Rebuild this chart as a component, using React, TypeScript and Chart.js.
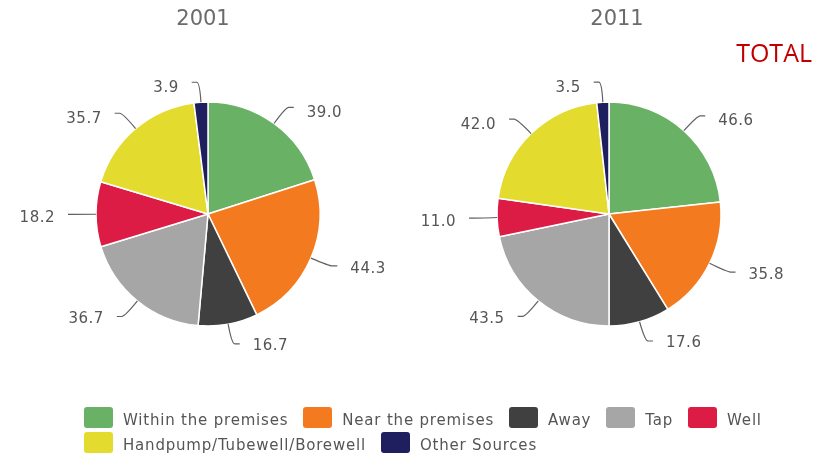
import React, { useEffect, useRef } from 'react';
import { Chart, registerables } from 'chart.js';

Chart.register(...registerables);

const categories = [
  'Within the premises',
  'Near the premises',
  'Away',
  'Tap',
  'Well',
  'Handpump/Tubewell/Borewell',
  'Other Sources',
];
const values2001 = [39.0, 44.3, 16.7, 36.7, 18.2, 35.7, 3.9];
const values2011 = [46.6, 35.8, 17.6, 43.5, 11.0, 42.0, 3.5];
const sliceColors = ['#68b165', '#f47a20', '#404040', '#a6a6a6', '#dc1c44', '#e3db2d', '#1f1e5e'];
const yearTitles = ['2001', '2011'];
const sideLabel = 'TOTAL';

const leaderLabels = {
  id: 'leaderLabels',
  afterDatasetsDraw(chart: any) {
    const ctx = chart.ctx as CanvasRenderingContext2D;
    const meta = chart.getDatasetMeta(0);
    const data = chart.data.datasets[0].data as number[];
    ctx.save();
    meta.data.forEach((arc: any, i: number) => {
      const p = arc.getProps(['x', 'y', 'startAngle', 'endAngle', 'outerRadius'], true);
      const mid = (p.startAngle + p.endAngle) / 2;
      const ux = Math.cos(mid);
      const uy = Math.sin(mid);
      const r = p.outerRadius;
      const x0 = p.x + r * ux;
      const y0 = p.y + r * uy;
      const x1 = p.x + (r + 20) * ux;
      const y1 = p.y + (r + 20) * uy;
      const right = ux >= 0;
      const x2 = x1 + (right ? 8 : -8);
      ctx.strokeStyle = '#606060';
      ctx.lineWidth = 1.2;
      ctx.beginPath();
      ctx.moveTo(x0, y0);
      ctx.quadraticCurveTo(x1, y1, x1 + (right ? 3 : -3), y1);
      ctx.lineTo(x2, y1);
      ctx.stroke();
      ctx.font = '15px "DejaVu Sans"';
      (ctx as any).letterSpacing = '0.5px';
      ctx.fillStyle = '#555555';
      ctx.textAlign = right ? 'left' : 'right';
      ctx.textBaseline = 'middle';
      ctx.fillText(data[i].toFixed(1), x2 + (right ? 13 : -13), y1 + 4 - 2 * uy);
    });
    ctx.restore();
  },
};

function PieCanvas({ values, left, width, height }: { values: number[]; left: number; width: number; height: number }) {
  const ref = useRef<HTMLCanvasElement | null>(null);
  useEffect(() => {
    if (!ref.current) return;
    const chart = new Chart(ref.current, {
      type: 'pie',
      data: {
        labels: categories,
        datasets: [
          {
            data: values,
            backgroundColor: sliceColors,
            borderColor: '#ffffff',
            borderWidth: 1.5,
            hoverOffset: 0,
          },
        ],
      },
      options: {
        responsive: false,
        animation: false,
        radius: 112,
        layout: { padding: 0 },
        plugins: {
          legend: { display: false },
          tooltip: { enabled: false },
          title: { display: false },
        },
      } as any,
      plugins: [leaderLabels],
    });
    return () => chart.destroy();
  }, [values]);
  return (
    <canvas
      ref={ref}
      width={width}
      height={height}
      style={{ position: 'absolute', left, top: 0, width, height }}
    />
  );
}

export default function App() {
  const titleStyle: React.CSSProperties = {
    position: 'absolute',
    top: 6,
    width: 100,
    textAlign: 'center',
    fontFamily: '"DejaVu Sans", sans-serif',
    fontSize: 21,
    color: '#6b6b6b',
    lineHeight: 'normal',
  };
  return (
    <div
      style={{
        position: 'absolute',
        left: 0,
        top: 0,
        width: 825,
        height: 457,
        overflow: 'hidden',
        background: '#ffffff',
      }}
    >
      <PieCanvas values={values2001} left={0} width={416} height={428} />
      <PieCanvas values={values2011} left={409} width={400} height={428} />
      <div style={{ ...titleStyle, left: 153 }}>{yearTitles[0]}</div>
      <div style={{ ...titleStyle, left: 567 }}>{yearTitles[1]}</div>
      <div
        style={{
          position: 'absolute',
          left: 700,
          width: 112,
          top: 35,
          textAlign: 'right',
          fontFamily: '"Open Sans", sans-serif',
          fontSize: 25,
          color: '#c00000',
          lineHeight: 'normal',
        }}
      >
        {sideLabel}
      </div>
      <div
        style={{
          position: 'absolute',
          left: 84,
          top: 407,
          width: 700,
          display: 'flex',
          flexWrap: 'wrap',
          columnGap: 15,
          rowGap: 4,
        }}
      >
        {categories.map((c, i) => (
          <div key={c} style={{ display: 'flex', height: 21, alignItems: 'flex-start' }}>
            <div style={{ width: 29, height: 21, borderRadius: 3, background: sliceColors[i] }} />
            <span
              style={{
                marginLeft: 10,
                fontFamily: '"DejaVu Sans", sans-serif',
                fontSize: 15,
                letterSpacing: '0.8px',
                color: '#555555',
                lineHeight: '21px',
                position: 'relative',
                top: 3,
                whiteSpace: 'nowrap',
              }}
            >
              {c}
            </span>
          </div>
        ))}
      </div>
    </div>
  );
}
